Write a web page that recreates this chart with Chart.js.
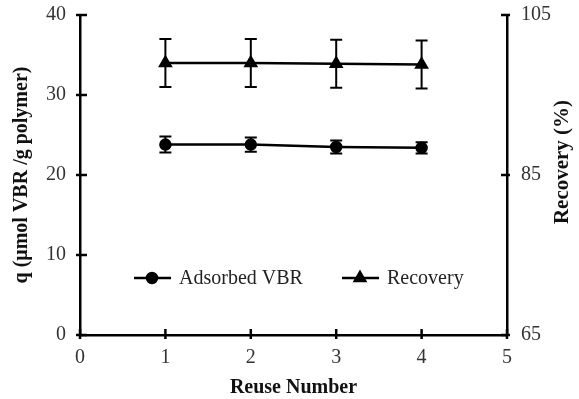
<!DOCTYPE html>
<html>
<head>
<meta charset="utf-8">
<script src="https://cdn.jsdelivr.net/npm/chart.js@4.4.1/dist/chart.umd.min.js"></script>
<style>
  html, body { margin: 0; padding: 0; background: #fff; }
  #wrap { width: 579px; height: 399px; }
</style>
</head>
<body>
<div id="wrap"><canvas id="reuse"></canvas></div>
<script>
const reuseNumbers = [1, 2, 3, 4];
const adsorbedVBR = [23.8, 23.8, 23.5, 23.4];
const adsorbedErr = [1.0, 0.9, 0.8, 0.7];
const recovery = [99.0, 99.0, 98.9, 98.8];
const recoveryErr = [3.0, 3.0, 3.0, 3.0];
const xTicks = [0, 1, 2, 3, 4, 5];
const leftTicks = [0, 10, 20, 30, 40];
const rightTicks = [65, 85, 105];

const serif = "'Liberation Serif', 'Times New Roman', serif";

// error bars with caps
const errorBars = {
  id: 'errorBars',
  afterDatasetsDraw(chart) {
    const ctx = chart.ctx;
    const sx = chart.scales.x;
    const sets = [
      { scale: chart.scales.y, vals: adsorbedVBR, err: adsorbedErr },
      { scale: chart.scales.y1, vals: recovery, err: recoveryErr }
    ];
    ctx.save();
    ctx.strokeStyle = '#000';
    ctx.lineWidth = 2;
    sets.forEach(s => {
      reuseNumbers.forEach((n, i) => {
        const x = sx.getPixelForValue(n);
        const yTop = s.scale.getPixelForValue(s.vals[i] + s.err[i]);
        const yBot = s.scale.getPixelForValue(s.vals[i] - s.err[i]);
        ctx.beginPath();
        ctx.moveTo(x, yTop); ctx.lineTo(x, yBot);
        ctx.moveTo(x - 6, yTop); ctx.lineTo(x + 6, yTop);
        ctx.moveTo(x - 6, yBot); ctx.lineTo(x + 6, yBot);
        ctx.stroke();
      });
    });
    ctx.restore();
  }
};

// tick marks crossing the axis lines, plus right title read bottom-to-top
const crossTicks = {
  id: 'crossTicks',
  afterDraw(chart) {
    const ctx = chart.ctx;
    const { x, y, y1 } = chart.scales;
    const a = chart.chartArea;
    ctx.save();
    ctx.strokeStyle = '#000';
    ctx.lineWidth = 2.5;
    ctx.beginPath();
    xTicks.forEach(v => {
      const px = x.getPixelForValue(v);
      ctx.moveTo(px, a.bottom - 6); ctx.lineTo(px, a.bottom + 4);
    });
    leftTicks.forEach(v => {
      const py = y.getPixelForValue(v);
      ctx.moveTo(a.left - 4, py); ctx.lineTo(a.left + 7, py);
    });
    rightTicks.forEach(v => {
      const py = y1.getPixelForValue(v);
      ctx.moveTo(a.right - 6, py); ctx.lineTo(a.right + 3, py);
    });
    ctx.stroke();

    ctx.translate(563, 162);
    ctx.rotate(-Math.PI / 2);
    ctx.fillStyle = '#111';
    ctx.font = 'bold 21px ' + serif;
    ctx.textAlign = 'center';
    ctx.textBaseline = 'middle';
    ctx.fillText('Recovery (%)', 0, 0);
    ctx.restore();
  }
};

// legend drawn inside the plot
const innerLegend = {
  id: 'innerLegend',
  afterDraw(chart) {
    const ctx = chart.ctx;
    const items = [
      { label: 'Adsorbed VBR', style: 'circle', x: 134 },
      { label: 'Recovery', style: 'triangle', x: 342 }
    ];
    const yy = 278;
    ctx.save();
    ctx.strokeStyle = '#000';
    ctx.fillStyle = '#000';
    ctx.lineWidth = 2.5;
    ctx.textBaseline = 'middle';
    items.forEach(it => {
      ctx.beginPath();
      ctx.moveTo(it.x, yy); ctx.lineTo(it.x + 37, yy);
      ctx.stroke();
      Chart.helpers.drawPoint(ctx, { pointStyle: it.style, radius: it.style === 'circle' ? 5 : 6, borderWidth: 1 }, it.x + 18, yy);
      ctx.fill();
      ctx.fillStyle = '#222';
      ctx.font = '20px ' + serif;
      ctx.fillText(it.label, it.x + 45, yy + 1);
      ctx.fillStyle = '#000';
    });
    ctx.restore();
  }
};

const noPad = s => { s.paddingTop = 0; s.paddingBottom = 0; };

new Chart(document.getElementById('reuse'), {
  type: 'line',
  data: {
    datasets: [
      {
        label: 'Adsorbed VBR',
        data: reuseNumbers.map((n, i) => ({ x: n, y: adsorbedVBR[i] })),
        yAxisID: 'y',
        borderColor: '#000',
        backgroundColor: '#000',
        borderWidth: 2.5,
        pointStyle: 'circle',
        pointRadius: 5,
        tension: 0
      },
      {
        label: 'Recovery',
        data: reuseNumbers.map((n, i) => ({ x: n, y: recovery[i] })),
        yAxisID: 'y1',
        borderColor: '#000',
        backgroundColor: '#000',
        borderWidth: 2.5,
        pointStyle: 'triangle',
        pointRadius: 6,
        tension: 0
      }
    ]
  },
  options: {
    responsive: true,
    maintainAspectRatio: false,
    animation: false,
    layout: { padding: { top: 15, left: 0, right: 0, bottom: 0 } },
    plugins: { legend: { display: false }, tooltip: { enabled: false } },
    scales: {
      x: {
        type: 'linear',
        min: 0, max: 5,
        afterBuildTicks: s => { s.ticks = xTicks.map(v => ({ value: v })); },
        afterFit: s => { s.height = 64; s.paddingLeft = 0; s.paddingRight = 0; },
        grid: { display: false },
        border: { color: '#000', width: 2.5 },
        ticks: { color: '#333', font: { family: serif, size: 20 }, padding: 3 },
        title: { display: true, text: 'Reuse Number', color: '#111', font: { family: serif, size: 20, weight: 'bold' }, padding: { top: 0, bottom: -1 } }
      },
      y: {
        position: 'left',
        min: 0, max: 40,
        afterBuildTicks: s => { s.ticks = leftTicks.map(v => ({ value: v })); },
        afterFit: s => { s.width = 80; noPad(s); },
        grid: { display: false },
        border: { color: '#000', width: 2.5 },
        ticks: { color: '#333', font: { family: serif, size: 20 }, padding: 6 },
        title: { display: true, text: 'q (μmol VBR /g polymer)', color: '#111', font: { family: serif, size: 20, weight: 'bold' }, padding: { top: 10, bottom: 0 } }
      },
      y1: {
        position: 'right',
        min: 65, max: 105,
        afterBuildTicks: s => { s.ticks = rightTicks.map(v => ({ value: v })); },
        afterFit: s => { s.width = 72; noPad(s); },
        grid: { display: false },
        border: { color: '#000', width: 2.5 },
        ticks: { color: '#333', font: { family: serif, size: 20 }, padding: 6 },
        title: { display: false }
      }
    }
  },
  plugins: [errorBars, crossTicks, innerLegend]
});
</script>
</body>
</html>
